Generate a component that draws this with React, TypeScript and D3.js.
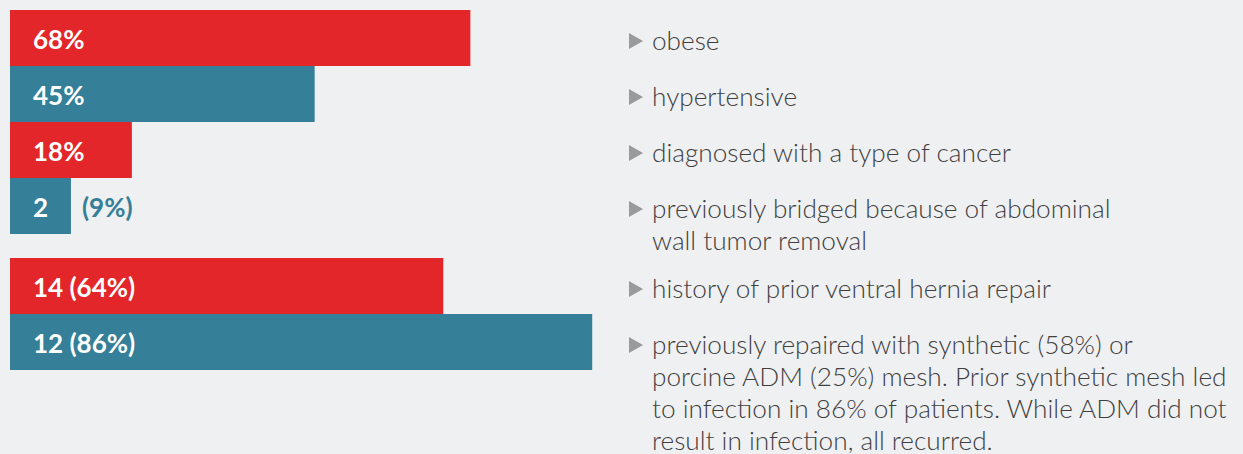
import React from 'react';
import * as d3 from 'd3';

const values = [68, 45, 18, 9, 64, 86];
const barLabels = ['68%', '45%', '18%', '2', '14 (64%)', '12 (86%)'];
const outsideLabels = ['', '', '', '(9%)', '', ''];
const groups = [0, 0, 0, 0, 1, 1];
const seriesColors = ['#e3262a', '#357f98', '#e3262a', '#357f98', '#e3262a', '#357f98'];
const descriptions = [
  ['obese'],
  ['hypertensive'],
  ['diagnosed with a type of cancer'],
  ['previously bridged because of abdominal', 'wall tumor removal'],
  ['history of prior ventral hernia repair'],
  [
    'previously repaired with synthetic (58%) or',
    'porcine ADM (25%) mesh. Prior synthetic mesh led',
    'to infection in 86% of patients. While ADM did not',
    'result in infection, all recurred.',
  ],
];

const W = 1243;
const H = 454;
const FONT = "'Source Sans Pro', Lato, 'Open Sans', sans-serif";

export default function App() {
  const rowH = 56;
  const groupGap = 24;
  const top = 10;

  const x = d3.scaleLinear().domain([0, 100]).range([10, 687]);
  const y = d3
    .scaleBand<number>()
    .domain(values.map((_, i) => i))
    .range([top, top + rowH * values.length])
    .paddingInner(0);
  const rowY = (i: number) => (y(i) as number) + groups[i] * groupGap;

  const labelX = 652;
  const lineH = 32;

  return (
    <div style={{ position: 'fixed', left: 0, top: 0, width: W, height: H }}>
      <svg width={W} height={H} style={{ display: 'block', background: '#eff0f2' }}>
        {values.map((v, i) => {
          const y0 = rowY(i);
          const cy = y0 + y.bandwidth() / 2;
          return (
            <g key={i}>
              <rect x={x(0)} y={y0} width={x(v) - x(0)} height={y.bandwidth()} fill={seriesColors[i]} />
              <text x={33} y={cy + 11} fill="#fff" fontFamily={FONT} fontWeight={700} fontSize={26}>
                {barLabels[i]}
              </text>
              {outsideLabels[i] && (
                <text
                  x={x(v) + 11}
                  y={cy + 11}
                  fill={seriesColors[i]}
                  fontFamily={FONT}
                  fontWeight={700}
                  fontSize={26}
                >
                  {outsideLabels[i]}
                </text>
              )}
              <path d={`M629,${cy - 5} L643,${cy + 3} L629,${cy + 11} Z`} fill="#9a9a9a" />
              {descriptions[i].map((line, j) => (
                <text
                  key={j}
                  x={labelX}
                  y={cy + 12 + j * lineH}
                  fill="#3f3f3f"
                  fontFamily={FONT}
                  fontWeight={300}
                  fontSize={26.2}
                >
                  {line}
                </text>
              ))}
            </g>
          );
        })}
      </svg>
    </div>
  );
}
